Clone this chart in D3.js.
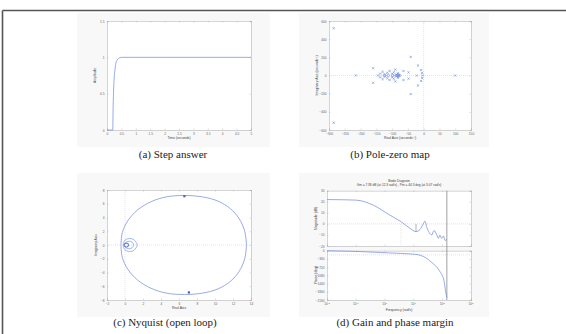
<!DOCTYPE html>
<html>
<head>
<meta charset="utf-8">
<script src="https://cdn.jsdelivr.net/npm/d3@7"></script>
<style>
  body { margin: 0; background: #fff; }
  svg { display: block; }
</style>
</head>
<body>
<svg id="fig" width="566" height="334"></svg>
<script>
// ---------- data ----------
// (a) step answer
const stepT = [0, 0.2, 0.21, 0.23, 0.25, 0.28, 0.31, 0.35, 0.4, 0.45, 0.5, 1, 2, 5];
const stepY = [0, 0, 0.25, 0.55, 0.72, 0.84, 0.92, 0.96, 0.985, 0.995, 1, 1, 1, 1];
const stepXTicks = [0, 0.5, 1, 1.5, 2, 2.5, 3, 3.5, 4, 4.5, 5];
const stepYTicks = [0, 0.5, 1, 1.5];

// (b) pole-zero map
const poleRe = [-285, -285, -215, -160, -160, -145, -138, -138, -130, -130, -122, -122, -115, -115, -108, -108,
  -100, -100, -95, -95, -90, -90, -86, -86, -82, -82, -64, -64, -48, -48, -41, -41, -22, -18, -18, -8, -8, -5, -5, -3, 100];
const poleIm = [520, -520, 0, 80, -80, 0, 20, -20, 40, -40, 12, -12, 30, -30, 50, -50,
  20, -20, 35, -35, 65, -65, 10, -10, 25, -25, 50, -50, 35, -35, 205, -205, 0, 110, -110, 60, -60, 28, -28, 0, 0];
const zeroRe = [-125, -112, -98, -88, -82, -80, -80, -76];
const zeroIm = [0, 0, 0, 0, 0, 8, -8, 0];
const pzXTicks = [-300, -250, -200, -150, -100, -50, 0, 50, 100, 150];
const pzYTicks = [-600, -400, -200, 0, 200, 400, 600];

// (c) nyquist, upper half of the big contour (lower half is its mirror)
const nyqRe = [13.5, 13.3, 12.7, 11.7, 10.3, 8.6, 6.6, 4.6, 2.9, 1.4, 0.3, -0.3, -0.45];
const nyqIm = [0, 2, 3.8, 5.3, 6.4, 7.0, 7.2, 7.0, 6.3, 5.1, 3.5, 1.8, 0];
const loopRe = [
  [-0.2, 0.0, 0.5, 1.0, 1.35, 1.0, 0.5, 0.0],
  [-0.1, 0.1, 0.45, 0.8, 0.95, 0.8, 0.45, 0.1],
  [-0.1, 0.0, 0.15, 0.3, 0.4, 0.3, 0.15, 0.0]
];
const loopIm = [
  [0, 0.7, 0.95, 0.75, 0, -0.75, -0.95, -0.7],
  [0, 0.4, 0.55, 0.4, 0, -0.4, -0.55, -0.4],
  [0, 0.22, 0.28, 0.22, 0, -0.22, -0.28, -0.22]
];
const arrowRe = [6.6, 7.1];
const arrowIm = [7.1, -6.9];
const nyqXTicks = [-2, 0, 2, 4, 6, 8, 10, 12, 14];
const nyqYTicks = [-8, -6, -4, -2, 0, 2, 4, 6, 8];

// (d) bode
const bodeW = [0.01, 0.1, 0.4, 1.5, 3.7, 7.6, 12.3, 17, 22, 25, 30, 38, 43, 52, 65, 74, 83, 95, 110, 126, 145];
const bodeMag = [22, 21.5, 17, 8, 2, -4, -7, -5, 0, 2.4, -4, -9, -10, -6, -10, -13, -10, -13, -11, -15, -14];
const phaseW = [0.01, 0.1, 1.5, 10, 22, 42, 80, 115, 130, 145];
const phaseDeg = [0, -30, -100, -150, -250, -500, -880, -1300, -1750, -2050];
const bodeXTicks = [0.01, 0.1, 1, 10, 100, 1000];
const magTicks = [-20, -10, 0, 10, 20, 30];
const phaseTicks = [-2160, -1800, -1440, -1080, -720, -360, 0];
const gmW = 12.3, pcW = 3.7, cutW = 145;

// ---------- drawing ----------
const svg = d3.select("#fig");
const blue = "#6a86dc";
const tickFont = 3.2;

// outer frame (only top and left visible)
svg.append("line").attr("x1", 2.5).attr("x2", 566).attr("y1", 10.5).attr("y2", 10.5)
  .attr("stroke", "#555").attr("stroke-width", 1.6);
svg.append("line").attr("x1", 2.5).attr("x2", 2.5).attr("y1", 10.5).attr("y2", 334)
  .attr("stroke", "#555").attr("stroke-width", 1.6);

function bg(x, y, w, h) {
  svg.append("rect").attr("x", x).attr("y", y).attr("width", w).attr("height", h).attr("fill", "#f8f8f8");
}

// matlab style box with inward ticks on all sides
function box(g, x, y, xt, yt, fx, fy, showX = true) {
  const [x0, x1] = x.range(), [y1, y0] = y.range();
  g.append("rect").attr("x", x0).attr("y", y0).attr("width", x1 - x0).attr("height", y1 - y0)
    .attr("fill", "#fff");
  const style = sel => {
    sel.selectAll(".domain").attr("stroke", "#aaa").attr("stroke-width", 0.5);
    sel.selectAll(".tick line").attr("stroke", "#aaa").attr("stroke-width", 0.4);
    sel.selectAll("text").attr("font-size", tickFont).attr("fill", "#666").attr("font-family", "Liberation Sans");
  };
  g.append("g").attr("transform", `translate(0,${y1})`)
    .call(d3.axisBottom(x).tickValues(xt).tickSize(-1.5).tickPadding(2.5).tickFormat(showX ? fx : () => ""))
    .call(style);
  g.append("g").attr("transform", `translate(0,${y0})`)
    .call(d3.axisTop(x).tickValues(xt).tickSize(-1.5).tickFormat(() => "")).call(style);
  g.append("g").attr("transform", `translate(${x0},0)`)
    .call(d3.axisLeft(y).tickValues(yt).tickSize(-1.5).tickPadding(2.5).tickFormat(fy)).call(style);
  g.append("g").attr("transform", `translate(${x1},0)`)
    .call(d3.axisRight(y).tickValues(yt).tickSize(-1.5).tickFormat(() => "")).call(style);
}

function label(txt, x, y, rot = 0, size = 3.4) {
  svg.append("text").attr("transform", `translate(${x},${y}) rotate(${rot})`)
    .attr("text-anchor", "middle").attr("font-family", "Liberation Sans")
    .attr("font-size", size).attr("fill", "#444").text(txt);
}

function caption(txt, x, y) {
  svg.append("text").attr("x", x).attr("y", y).attr("text-anchor", "middle")
    .attr("font-family", "Liberation Serif").attr("font-size", 11).attr("fill", "#222").text(txt);
}

function gridLine(g, x1, y1, x2, y2) {
  g.append("line").attr("x1", x1).attr("y1", y1).attr("x2", x2).attr("y2", y2)
    .attr("stroke", "#c8c8c8").attr("stroke-width", 0.5).attr("stroke-dasharray", "1,1");
}

// (a) step answer
bg(77, 13, 193, 134);
{
  const g = svg.append("g");
  const x = d3.scaleLinear().domain([0, 5]).range([107, 251]);
  const y = d3.scaleLinear().domain([0, 1.5]).range([130, 21]);
  box(g, x, y, stepXTicks, stepYTicks, d3.format("~g"), d3.format("~g"));
  g.append("path").datum(stepT.map((t, i) => [t, stepY[i]]))
    .attr("fill", "none").attr("stroke", blue).attr("stroke-width", 0.7)
    .attr("d", d3.line().x(d => x(d[0])).y(d => y(d[1])).curve(d3.curveMonotoneX));
  label("Time (seconds)", 179, 139);
  label("Amplitude", 96, 75.5, -90);
}
caption("(a) Step answer", 173, 158);

// (b) pole-zero map
bg(299, 13, 190, 134);
{
  const g = svg.append("g");
  const x = d3.scaleLinear().domain([-300, 150]).range([329, 471]);
  const y = d3.scaleLinear().domain([-600, 600]).range([130, 21]);
  box(g, x, y, pzXTicks, pzYTicks, d3.format("~g"), d3.format("~g"));
  gridLine(g, x(0), 21, x(0), 130);
  gridLine(g, 329, y(0), 471, y(0));
  const s = 1.1;
  g.selectAll("path.pole").data(poleRe.map((r, i) => [r, poleIm[i]])).join("path")
    .attr("class", "pole").attr("fill", "none").attr("stroke", blue).attr("stroke-width", 0.6)
    .attr("d", d => `M${x(d[0]) - s},${y(d[1]) - s}L${x(d[0]) + s},${y(d[1]) + s}M${x(d[0]) - s},${y(d[1]) + s}L${x(d[0]) + s},${y(d[1]) - s}`);
  g.selectAll("circle.zero").data(zeroRe.map((r, i) => [r, zeroIm[i]])).join("circle")
    .attr("class", "zero").attr("cx", d => x(d[0])).attr("cy", d => y(d[1])).attr("r", 1.2)
    .attr("fill", "none").attr("stroke", blue).attr("stroke-width", 0.6);
  label("Real Axis (seconds\u207B\u00B9)", 400, 139);
  label("Imaginary Axis (seconds\u207B\u00B9)", 318, 75.5, -90);
}
caption("(b) Pole-zero map", 390, 158);

// (c) nyquist
bg(77, 173, 193, 144);
{
  const g = svg.append("g");
  const x = d3.scaleLinear().domain([-2, 14]).range([107, 251]);
  const y = d3.scaleLinear().domain([-8, 8]).range([300, 190]);
  box(g, x, y, nyqXTicks, nyqYTicks, d3.format("~g"), d3.format("~g"));
  gridLine(g, x(0), 190, x(0), 300);
  gridLine(g, 107, y(0), 251, y(0));
  const line = d3.line().x(d => x(d[0])).y(d => y(d[1])).curve(d3.curveCatmullRom);
  const upper = nyqRe.map((r, i) => [r, nyqIm[i]]);
  const lower = nyqRe.map((r, i) => [r, -nyqIm[i]]);
  [upper, lower].forEach(p => g.append("path").datum(p).attr("fill", "none")
    .attr("stroke", blue).attr("stroke-width", 0.7).attr("d", line));
  const closed = d3.line().x(d => x(d[0])).y(d => y(d[1])).curve(d3.curveCardinalClosed);
  loopRe.forEach((lr, k) => g.append("path").datum(lr.map((r, i) => [r, loopIm[k][i]]))
    .attr("fill", "none").attr("stroke", blue).attr("stroke-width", k === 2 ? 1.1 : 0.6).attr("d", closed));
  g.selectAll("rect.arrow").data(arrowRe.map((r, i) => [r, arrowIm[i]])).join("rect")
    .attr("class", "arrow").attr("x", d => x(d[0]) - 1.1).attr("y", d => y(d[1]) - 1.1)
    .attr("width", 2.2).attr("height", 2.2).attr("fill", "#3f62cc");
  g.append("text").attr("x", x(-1)).attr("y", y(0) + 1.2).attr("text-anchor", "middle")
    .attr("font-size", 3.5).attr("fill", "#e55").text("+");
  label("Real Axis", 179, 309);
  label("Imaginary Axis", 97, 245, -90);
}
caption("(c) Nyquist (open loop)", 165, 326);

// (d) bode
bg(299, 173, 190, 144);
{
  const g = svg.append("g");
  const x = d3.scaleLog().domain([0.01, 1000]).range([327, 471]);
  const ym = d3.scaleLinear().domain([-20, 30]).range([246, 190.7]);
  const yp = d3.scaleLinear().domain([-2160, 0]).range([300, 250.7]);
  box(g, x, ym, bodeXTicks, magTicks, () => "", d3.format("~g"), false);
  box(g, x, yp, bodeXTicks, phaseTicks, () => "", d3.format("~g"));
  // decade labels 10^n
  bodeXTicks.forEach(v => {
    const t = g.append("text").attr("x", x(v)).attr("y", 305).attr("text-anchor", "middle")
      .attr("font-family", "Liberation Sans").attr("font-size", tickFont).attr("fill", "#666").text("10");
    t.append("tspan").attr("dy", -1.2).attr("font-size", 2.4).text(Math.round(Math.log10(v)));
  });
  gridLine(g, 327, ym(0), 471, ym(0));
  gridLine(g, 327, yp(-180), 471, yp(-180));
  gridLine(g, x(pcW), ym(0), x(pcW), 246);
  g.append("line").attr("x1", x(gmW)).attr("x2", x(gmW)).attr("y1", ym(0)).attr("y2", ym(-7))
    .attr("stroke", "#666").attr("stroke-width", 0.5);
  g.append("line").attr("x1", x(cutW)).attr("x2", x(cutW)).attr("y1", 190.7).attr("y2", 300)
    .attr("stroke", "#777").attr("stroke-width", 0.7);
  const lm = d3.line().x(d => x(d[0])).y(d => ym(d[1])).curve(d3.curveMonotoneX);
  g.append("path").datum(bodeW.map((w, i) => [w, bodeMag[i]])).attr("fill", "none")
    .attr("stroke", blue).attr("stroke-width", 0.7).attr("d", lm);
  const lp = d3.line().x(d => x(d[0])).y(d => yp(d[1])).curve(d3.curveMonotoneX);
  g.append("path").datum(phaseW.map((w, i) => [w, phaseDeg[i]])).attr("fill", "none")
    .attr("stroke", blue).attr("stroke-width", 0.7).attr("d", lp);
  label("Bode Diagram", 399, 181.5, 0, 3.4);
  label("Gm = 7.38 dB (at 12.3 rad/s) ,  Pm = 44.3 deg (at 3.07 rad/s)", 399, 185.8, 0, 3.2);
  label("Frequency (rad/s)", 399, 310.5);
  label("Magnitude (dB)", 317, 218.5, -90);
  label("Phase (deg)", 317, 275, -90);
}
caption("(d) Gain and phase margin", 395, 326);
</script>
</body>
</html>
